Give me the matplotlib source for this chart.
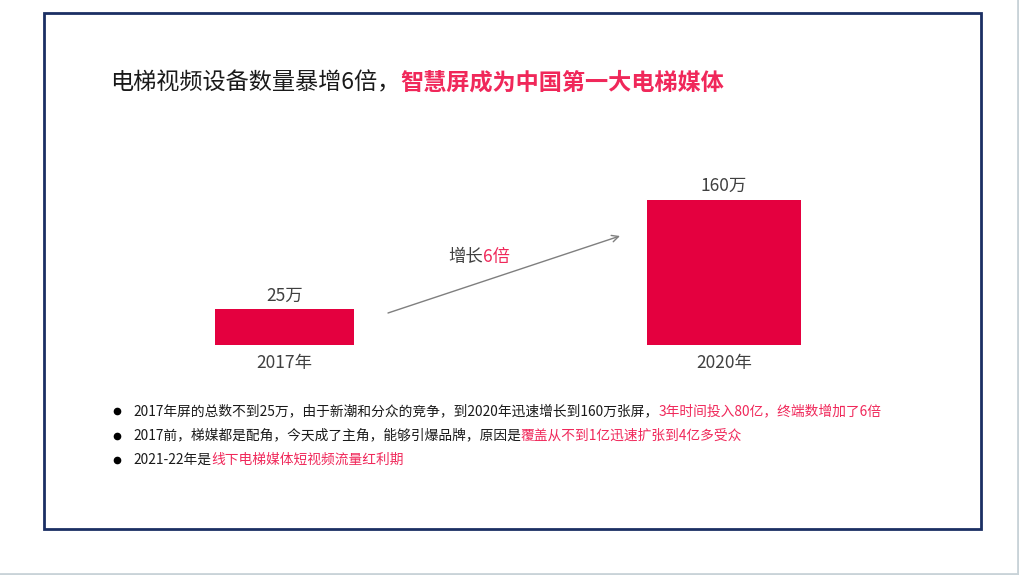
import matplotlib.pyplot as plt
from matplotlib.patches import Rectangle
from matplotlib.lines import Line2D

plt.rcParams['font.family'] = ['Noto Sans CJK SC', 'DejaVu Sans']

# данные
years = ['2017年', '2020年']
screens = [25, 160]          # 万
value_labels = ['25万', '160万']
title_black = '电梯视频设备数量暴增6倍，'
title_red = '智慧屏成为中国第一大电梯媒体'
bullets = [
    ('2017年屏的总数不到25万，由于新潮和分众的竞争，到2020年迅速增长到160万张屏，', '3年时间投入80亿，终端数增加了6倍'),
    ('2017前，梯媒都是配角，今天成了主角，能够引爆品牌，原因是', '覆盖从不到1亿迅速扩张到4亿多受众'),
    ('2021-22年是', '线下电梯媒体短视频流量红利期'),
]

W, H = 1020, 575
red = '#E4003F'
txt_red = '#F0285A'
grey = '#404040'

fig = plt.figure(figsize=(W / 100, H / 100), dpi=100)

def fx(x):
    return x / W

def fy(y):
    return 1 - y / H

# рамка
fig.add_artist(Rectangle((fx(44), fy(529)), fx(981) - fx(44), fy(13) - fy(529),
                         transform=fig.transFigure, fill=False, edgecolor='#1B2F63', lw=2.0))
fig.add_artist(Line2D([0, 1], [fy(573.5)] * 2, transform=fig.transFigure, color='#C9D3D8', lw=2))
fig.add_artist(Line2D([fx(1018.5)] * 2, [0, 1], transform=fig.transFigure, color='#C9D3D8', lw=2))

top = fig.add_axes([0, 0, 1, 1], frameon=False)
top.set_axis_off()

# заголовок
t1 = top.text(fx(110), fy(83), title_black, fontsize=16.7, color='#1a1a1a', va='center',
              ha='left', transform=fig.transFigure)
top.annotate(title_red, xy=(1, 0.5), xycoords=t1, va='center', ha='left',
             fontsize=16.7, color=txt_red, fontweight='bold')

# столбцы
unit = 439.5
c0 = 284.5
base = 19.2
ax = fig.add_axes([fx(c0 - unit / 2), 230 / H, unit * 2 / W, 145 / H])
ax.set_xlim(-0.5, 1.5)
ax.set_ylim(-base, 160)
ax.set_axis_off()
xs = list(range(len(years)))
ax.bar(xs, [v + base for v in screens], bottom=-base, width=[0.316, 0.35], color=red)
for x, v, lab, yr in zip(xs, screens, value_labels, years):
    ax.annotate(lab, xy=(x, v), xytext=(0, 10), textcoords='offset points',
                ha='center', va='center', fontsize=12.5, color=grey)
    ax.annotate(yr, xy=(x, -base), xytext=(0, -13), textcoords='offset points',
                ha='center', va='center', fontsize=12.5, color=grey)

# стрелка
top.annotate('', xy=(fx(620), fy(236)), xytext=(fx(388), fy(313)),
             xycoords='figure fraction', textcoords='figure fraction',
             arrowprops=dict(arrowstyle='->', color='#7F7F7F', lw=1.0,
                             mutation_scale=12, shrinkA=0, shrinkB=0))
g1 = top.text(fx(448), fy(257), '增长', fontsize=12.5, color=grey, va='center', ha='left',
              transform=fig.transFigure)
top.annotate('6倍', xy=(1, 0.5), xycoords=g1, va='center', ha='left',
             fontsize=12.5, color=txt_red)

# пункты
for i, (black, redpart) in enumerate(bullets):
    y = fy(411 + i * 24.5)
    top.plot([fx(117)], [y], 'o', color='black', ms=4.5, transform=fig.transFigure)
    b = top.text(fx(133), y, black, fontsize=9.9, color='#1a1a1a', va='center', ha='left',
                 transform=fig.transFigure)
    top.annotate(redpart, xy=(1, 0.5), xycoords=b, va='center', ha='left',
                 fontsize=9.9, color=txt_red)

fig.savefig('out.png', dpi=100)
